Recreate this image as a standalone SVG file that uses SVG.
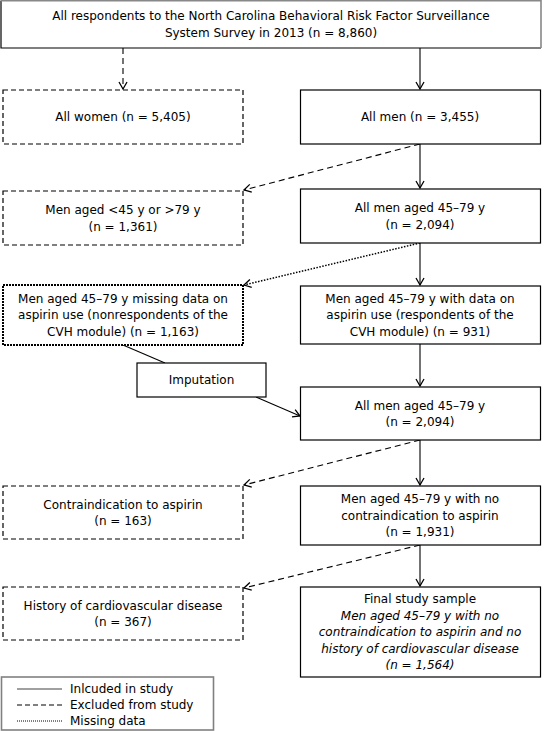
<svg xmlns="http://www.w3.org/2000/svg" width="544" height="731" viewBox="0 0 544 731">
<defs>
<style>
text{font-family:"DejaVu Sans","Verdana","Liberation Sans",sans-serif;font-size:12px;fill:#000;text-anchor:middle}
.box{fill:#fff;stroke:#000;stroke-width:1.2}
.dash{stroke-dasharray:5 3}
.dot{stroke-dasharray:2 1;stroke-width:2}
.c{fill:none;stroke:#000;stroke-width:1.1}
.cd{stroke-dasharray:6 4}
.cdot{stroke-dasharray:1.5 1.5;stroke-width:1.5}
.it{font-style:italic}
.lg{text-anchor:start}
</style>
<marker id="ah" markerUnits="userSpaceOnUse" markerWidth="12" markerHeight="12" refX="9" refY="6" orient="auto" viewBox="0 0 12 12">
<path d="M2,2 L9,6 L2,10" fill="none" stroke="#000" stroke-width="1.3" stroke-dasharray="none"/>
</marker>
</defs>
<rect width="544" height="731" fill="#fff"/>
<g id="connectors">
<path class="c cd" d="M123,48 V89" marker-end="url(#ah)"/>
<path class="c" d="M420,48 V89" marker-end="url(#ah)"/>
<path class="c cd" d="M420,144 L244,190" marker-end="url(#ah)"/>
<path class="c" d="M420,144 V188" marker-end="url(#ah)"/>
<path class="c cdot" d="M420,243 L244,285" marker-end="url(#ah)"/>
<path class="c" d="M420,243 V285" marker-end="url(#ah)"/>
<path class="c" d="M123,345 L165,363"/>
<path class="c" d="M256,397 L300,416" marker-end="url(#ah)"/>
<path class="c" d="M420,344 V386" marker-end="url(#ah)"/>
<path class="c cd" d="M420,440 L244,485" marker-end="url(#ah)"/>
<path class="c" d="M420,440 V485" marker-end="url(#ah)"/>
<path class="c cd" d="M420,545 L244,588" marker-end="url(#ah)"/>
<path class="c" d="M420,545 V586" marker-end="url(#ah)"/>
</g>
<g id="n-all">
<rect x="1" y="0" width="540" height="48" fill="#fff"/>
<path d="M1,0.5 V48 H541" fill="none" stroke="#000" stroke-width="1.2"/>
<path d="M1,0.8 H541 V48" fill="none" stroke="#888" stroke-width="1.6"/>
<text x="271" y="20">All respondents to the North Carolina Behavioral Risk Factor Surveillance</text>
<text x="271" y="37">System Survey in 2013 (n = 8,860)</text>
</g>
<g id="n-women">
<rect class="box dash" x="3" y="90" width="240" height="54"/>
<text x="123" y="121">All women (n = 5,405)</text>
</g>
<g id="n-men">
<rect class="box" x="300.5" y="90" width="240" height="54"/>
<text x="420" y="121">All men (n = 3,455)</text>
</g>
<g id="n-outage">
<rect class="box dash" x="3" y="191" width="240" height="54"/>
<text x="123" y="214">Men aged &lt;45 y or &gt;79 y</text>
<text x="123" y="230.5">(n = 1,361)</text>
</g>
<g id="n-age">
<rect class="box" x="300.5" y="189" width="240" height="54"/>
<text x="420" y="212">All men aged 45–79 y</text>
<text x="420" y="228.5">(n = 2,094)</text>
</g>
<g id="n-missing">
<rect class="box dot" x="3" y="285" width="240" height="60"/>
<text x="123" y="302.5">Men aged 45–79 y missing data on</text>
<text x="123" y="319">aspirin use (nonrespondents of the</text>
<text x="123" y="335.5">CVH module) (n = 1,163)</text>
</g>
<g id="n-data">
<rect class="box" x="300.5" y="286" width="240" height="58"/>
<text x="420" y="302.5">Men aged 45–79 y with data on</text>
<text x="420" y="319">aspirin use (respondents of the</text>
<text x="420" y="335.5">CVH module) (n = 931)</text>
</g>
<g id="n-imputation">
<rect class="box" x="137" y="363" width="129" height="34"/>
<text x="201.5" y="384">Imputation</text>
</g>
<g id="n-age2">
<rect class="box" x="300.5" y="387" width="240" height="53"/>
<text x="420" y="409.5">All men aged 45–79 y</text>
<text x="420" y="426">(n = 2,094)</text>
</g>
<g id="n-contra">
<rect class="box dash" x="3" y="486" width="240" height="53"/>
<text x="123" y="508.5">Contraindication to aspirin</text>
<text x="123" y="525">(n = 163)</text>
</g>
<g id="n-nocontra">
<rect class="box" x="300.5" y="486" width="240" height="59"/>
<text x="420" y="503">Men aged 45–79 y with no</text>
<text x="420" y="519.5">contraindication to aspirin</text>
<text x="420" y="536">(n = 1,931)</text>
</g>
<g id="n-cvd">
<rect class="box dash" x="3" y="587" width="240" height="53"/>
<text x="123" y="609.5">History of cardiovascular disease</text>
<text x="123" y="626">(n = 367)</text>
</g>
<g id="n-final">
<rect class="box" x="300.5" y="587" width="240" height="90"/>
<text x="420" y="603">Final study sample</text>
<text class="it" x="420" y="619.5">Men aged 45–79 y with no</text>
<text class="it" x="420" y="636">contraindication to aspirin and no</text>
<text class="it" x="420" y="652.5">history of cardiovascular disease</text>
<text class="it" x="420" y="669">(n = 1,564)</text>
</g>
<g id="legend">
<rect x="1.5" y="677" width="212" height="53" fill="#fff" stroke="#808080" stroke-width="1.6"/>
<path d="M17,689 H62" stroke="#808080" stroke-width="1.6"/>
<path d="M17,705 H62" stroke="#000" stroke-width="1" stroke-dasharray="5 3"/>
<path d="M17,721 H62" stroke="#000" stroke-width="1" stroke-dasharray="1 1"/>
<text class="lg" x="70" y="693">Inlcuded in study</text>
<text class="lg" x="70" y="709">Excluded from study</text>
<text class="lg" x="70" y="725">Missing data</text>
</g>
</svg>
